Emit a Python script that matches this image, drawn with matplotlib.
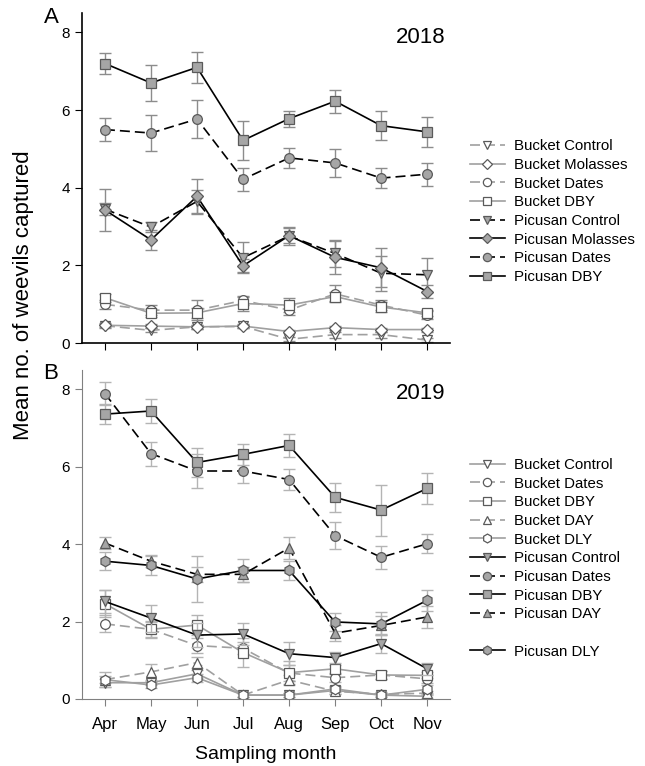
"""Weevil captures per month, 2018 vs 2019 (bucket vs Picusan traps)"""
import matplotlib
matplotlib.use('Agg')
import matplotlib.pyplot as plt
from matplotlib.lines import Line2D
import numpy as np

plt.rcParams['font.family'] = ['Liberation Sans', 'DejaVu Sans']

months = ['Apr', 'May', 'Jun', 'Jul', 'Aug', 'Sep', 'Oct', 'Nov']

# ── 2018 ────────────────────────────────────────────────────────────────────
a_bucket_control  = [0.45, 0.33, 0.42, 0.43, 0.10, 0.22, 0.22, 0.08]
a_bucket_control_e = [0.05, 0.05, 0.05, 0.05, 0.05, 0.08, 0.08, 0.05]
a_bucket_molasses = [0.46, 0.44, 0.42, 0.44, 0.30, 0.40, 0.35, 0.35]
a_bucket_molasses_e = [0.05, 0.05, 0.05, 0.05, 0.05, 0.05, 0.05, 0.05]
a_bucket_dates    = [1.00, 0.85, 0.85, 1.10, 0.85, 1.27, 0.98, 0.72]
a_bucket_dates_e  = [0.12, 0.12, 0.25, 0.12, 0.12, 0.22, 0.12, 0.10]
a_bucket_dby      = [1.17, 0.77, 0.78, 1.02, 0.98, 1.20, 0.93, 0.78]
a_bucket_dby_e    = [0.10, 0.10, 0.12, 0.18, 0.18, 0.12, 0.12, 0.08]
a_pic_control     = [3.45, 2.99, 3.65, 2.20, 2.76, 2.31, 1.80, 1.76]
a_pic_control_e   = [0.15, 0.12, 0.30, 0.40, 0.23, 0.35, 0.45, 0.44]
a_pic_molasses    = [3.43, 2.66, 3.78, 1.99, 2.77, 2.21, 1.94, 1.33]
a_pic_molasses_e  = [0.53, 0.25, 0.45, 0.17, 0.20, 0.42, 0.50, 0.16]
a_pic_dates       = [5.50, 5.41, 5.77, 4.22, 4.77, 4.64, 4.25, 4.35]
a_pic_dates_e     = [0.30, 0.46, 0.50, 0.29, 0.25, 0.35, 0.25, 0.30]
a_pic_dby         = [7.20, 6.70, 7.10, 5.22, 5.78, 6.23, 5.60, 5.44]
a_pic_dby_e       = [0.27, 0.47, 0.40, 0.50, 0.21, 0.30, 0.38, 0.38]

# ── 2019 ────────────────────────────────────────────────────────────────────
b_bucket_control  = [0.42, 0.42, 0.65, 0.10, 0.10, 0.22, 0.10, 0.07]
b_bucket_control_e = [0.10, 0.05, 0.10, 0.05, 0.05, 0.08, 0.05, 0.05]
b_bucket_dates    = [1.94, 1.80, 1.38, 1.31, 0.67, 0.55, 0.62, 0.52]
b_bucket_dates_e  = [0.22, 0.20, 0.20, 0.15, 0.20, 0.10, 0.10, 0.10]
b_bucket_dby      = [2.46, 1.80, 1.91, 1.20, 0.68, 0.78, 0.62, 0.61]
b_bucket_dby_e    = [0.35, 0.22, 0.25, 0.38, 0.30, 0.10, 0.10, 0.08]
b_bucket_day      = [0.50, 0.70, 0.94, 0.10, 0.49, 0.20, 0.12, 0.15]
b_bucket_day_e    = [0.20, 0.20, 0.15, 0.05, 0.12, 0.08, 0.05, 0.05]
b_bucket_dly      = [0.50, 0.36, 0.55, 0.10, 0.10, 0.26, 0.10, 0.25]
b_bucket_dly_e    = [0.10, 0.08, 0.10, 0.05, 0.05, 0.08, 0.05, 0.10]
b_pic_control     = [2.52, 2.09, 1.65, 1.68, 1.17, 1.07, 1.43, 0.78]
b_pic_control_e   = [0.30, 0.35, 0.30, 0.28, 0.30, 0.15, 0.25, 0.15]
b_pic_dates       = [7.89, 6.34, 5.89, 5.89, 5.67, 4.22, 3.66, 4.01]
b_pic_dates_e     = [0.30, 0.31, 0.43, 0.32, 0.28, 0.35, 0.29, 0.24]
b_pic_dby         = [7.36, 7.44, 6.11, 6.32, 6.55, 5.21, 4.88, 5.44]
b_pic_dby_e       = [0.26, 0.30, 0.38, 0.28, 0.29, 0.37, 0.66, 0.40]
b_pic_day         = [4.03, 3.56, 3.22, 3.22, 3.90, 1.70, 1.90, 2.12]
b_pic_day_e       = [0.15, 0.15, 0.20, 0.20, 0.28, 0.20, 0.25, 0.28]
b_pic_dly         = [3.56, 3.45, 3.10, 3.32, 3.32, 1.99, 1.94, 2.55]
b_pic_dly_e       = [0.23, 0.25, 0.60, 0.30, 0.25, 0.23, 0.30, 0.27]

GREY_LINE = '#a0a0a0'; GREY_FACE = '#a6a6a6'; EDGE = '#5a5a5a'
ERR_A = '#8c8c8c'; ERR_B = '#b4b4b4'
DASH = (0, (6, 3))
MS = {'v': 7.5, 'D': 6.5, 'o': 7, 's': 6.5, '^': 7.5, 'h': 7.5}

x = np.arange(len(months))


def series(ax, y, e, label, marker, bucket, dashed, ecol):
    ls = DASH if dashed else '-'
    if bucket:
        lc, fc, z = GREY_LINE, 'white', 2
    else:
        lc, fc, z = 'black', GREY_FACE, 3
    ax.errorbar(x, y, yerr=e, fmt='none', ecolor=ecol, elinewidth=1.0,
                capsize=4, capthick=1.0, zorder=z - 0.5)
    ax.plot(x, y, color=lc, lw=1.2, ls=ls, zorder=z)
    ax.plot(x, y, ls='none', marker=marker, ms=MS[marker], mfc=fc,
            mec=EDGE, mew=0.9, zorder=z + 0.1)
    return Line2D([], [], color=lc, lw=1.2, ls=ls, marker=marker,
                  ms=MS[marker] * 0.85, mfc=fc, mec=EDGE, mew=0.9, label=label)


def style(ax, spine_col, spine_w):
    ax.set_xlim(-0.5, 7.5)
    ax.set_ylim(0, 8.5)
    ax.set_yticks([0, 2, 4, 6, 8])
    ax.set_xticks(x)
    for s in ['top', 'right']:
        ax.spines[s].set_visible(False)
    for s in ['left', 'bottom']:
        ax.spines[s].set_color(spine_col)
        ax.spines[s].set_linewidth(spine_w)
    ax.tick_params(direction='out', length=5, width=0.8, color=spine_col,
                   labelsize=11)


fig = plt.figure(figsize=(6.45, 7.66), dpi=100)
axA = fig.add_axes([0.127, 0.552, 0.571, 0.431])
axB = fig.add_axes([0.127, 0.0875, 0.571, 0.4295])

# Panel A
hA = [
    series(axA, a_bucket_control, a_bucket_control_e, 'Bucket Control', 'v', True, True, ERR_A),
    series(axA, a_bucket_molasses, a_bucket_molasses_e, 'Bucket Molasses', 'D', True, False, ERR_A),
    series(axA, a_bucket_dates, a_bucket_dates_e, 'Bucket Dates', 'o', True, True, ERR_A),
    series(axA, a_bucket_dby, a_bucket_dby_e, 'Bucket DBY', 's', True, False, ERR_A),
    series(axA, a_pic_control, a_pic_control_e, 'Picusan Control', 'v', False, True, ERR_A),
    series(axA, a_pic_molasses, a_pic_molasses_e, 'Picusan Molasses', 'D', False, False, ERR_A),
    series(axA, a_pic_dates, a_pic_dates_e, 'Picusan Dates', 'o', False, True, ERR_A),
    series(axA, a_pic_dby, a_pic_dby_e, 'Picusan DBY', 's', False, False, ERR_A),
]
style(axA, 'black', 1.2)
axA.set_xticklabels([])
axA.text(0.986, 0.927, '2018', transform=axA.transAxes, ha='right',
         va='center', fontsize=16)

# Panel B
hB = [
    series(axB, b_bucket_control, b_bucket_control_e, 'Bucket Control', 'v', True, False, ERR_B),
    series(axB, b_bucket_dates, b_bucket_dates_e, 'Bucket Dates', 'o', True, True, ERR_B),
    series(axB, b_bucket_dby, b_bucket_dby_e, 'Bucket DBY', 's', True, False, ERR_B),
    series(axB, b_bucket_day, b_bucket_day_e, 'Bucket DAY', '^', True, True, ERR_B),
    series(axB, b_bucket_dly, b_bucket_dly_e, 'Bucket DLY', 'h', True, False, ERR_B),
    series(axB, b_pic_control, b_pic_control_e, 'Picusan Control', 'v', False, False, ERR_B),
    series(axB, b_pic_dates, b_pic_dates_e, 'Picusan Dates', 'o', False, True, ERR_B),
    series(axB, b_pic_dby, b_pic_dby_e, 'Picusan DBY', 's', False, False, ERR_B),
    series(axB, b_pic_day, b_pic_day_e, 'Picusan DAY', '^', False, True, ERR_B),
    Line2D([], [], color='none', label=' '),
    series(axB, b_pic_dly, b_pic_dly_e, 'Picusan DLY', 'h', False, False, ERR_B),
]
style(axB, '#808080', 0.8)
axB.set_xticklabels(months, fontsize=12)
axB.tick_params(axis='x', pad=8)
axB.text(0.986, 0.927, '2019', transform=axB.transAxes, ha='right',
         va='center', fontsize=16)
axB.set_xlabel('Sampling month', fontsize=14, labelpad=10)

fig.text(0.037, 0.615, 'Mean no. of weevils captured', rotation=90,
         ha='center', va='center', fontsize=16)
fig.text(0.079, 0.977, 'A', fontsize=16, ha='center', va='center')
fig.text(0.079, 0.513, 'B', fontsize=16, ha='center', va='center')

leg_kw = dict(loc='upper left', frameon=False, fontsize=10.8, numpoints=1,
              handlelength=2.3, handletextpad=0.6, labelspacing=0.31,
              borderaxespad=0, borderpad=0)
fig.legend(handles=hA, bbox_to_anchor=(0.729, 0.818), **leg_kw)
fig.legend(handles=hB, bbox_to_anchor=(0.729, 0.402), **leg_kw)

fig.savefig('out.png', dpi=100, facecolor='white')
plt.close(fig)
